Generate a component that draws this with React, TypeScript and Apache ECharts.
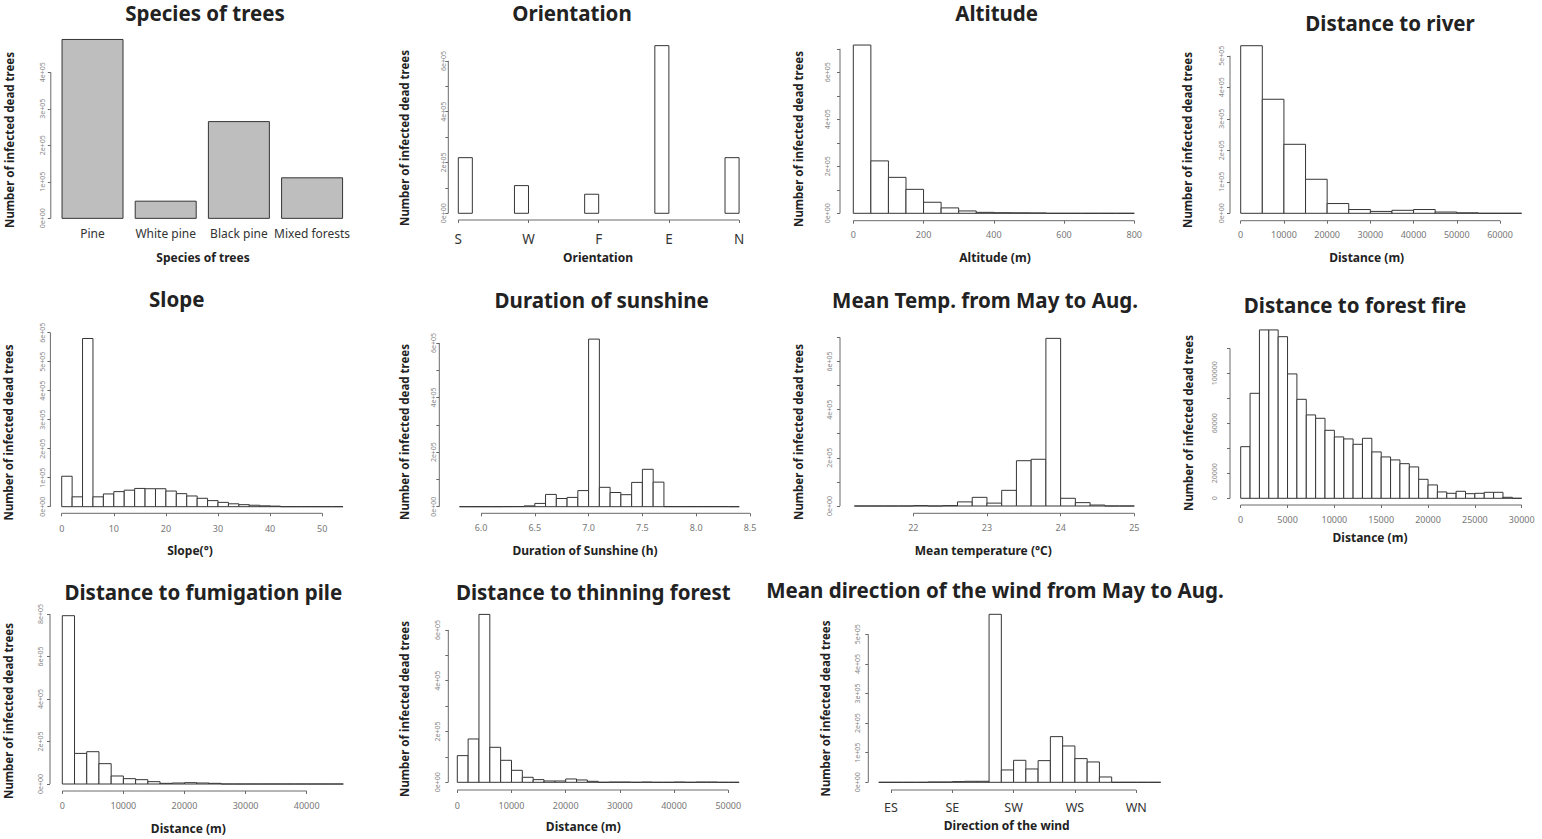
import React, { useEffect, useRef } from 'react';
import * as echarts from 'echarts';

const FF = '"Noto Sans", "Open Sans", "DejaVu Sans", sans-serif';

// ---------------- DATA ----------------
// Species of trees (bar plot)
const speciesNames = ['Pine', 'White pine', 'Black pine', 'Mixed forests'];
const speciesCounts = [490000, 47000, 265000, 111000];
const speciesYTicks = [0, 100000, 200000, 300000, 400000];

// Orientation (bins 0.2 wide ending at each class)
const orientationNames = ['S', 'W', 'F', 'E', 'N'];
const orientationBinStarts = [0, 0.8, 1.8, 2.8, 3.8];
const orientationCounts = [219000, 109000, 75000, 660000, 219000];
const orientationXTicks = [0, 1, 2, 3, 4];
const orientationYTicks = [0, 100000, 200000, 300000, 400000, 500000, 600000];
const orientationYLabels = [0, 200000, 400000, 600000];

// Altitude (50 m bins from 0)
const altitudeCounts = [716000, 223000, 153000, 102000, 47000, 23000, 10000, 4000, 2500, 2000, 1500, 0, 0, 0, 0, 0];
const altitudeXTicks = [0, 200, 400, 600, 800];
const altitudeYTicks = [0, 100000, 200000, 300000, 400000, 500000, 600000, 700000];
const altitudeYLabels = [0, 200000, 400000, 600000];

// Distance to river (5000 m bins from 0)
const riverCounts = [532000, 362000, 219000, 108000, 31000, 12000, 6000, 9500, 12000, 4000, 1500, 0, 0];
const riverXTicks = [0, 10000, 20000, 30000, 40000, 50000, 60000];
const riverYTicks = [0, 100000, 200000, 300000, 400000, 500000];

// Slope (2 degree bins from 0)
const slopeCounts = [105000, 34000, 580000, 34000, 44000, 52000, 57000, 63000, 62000, 62000, 54000, 45000, 37000, 29000, 21000, 15000, 10000, 7000, 5000, 3000, 2000, 0, 0, 0, 0, 0, 0];
const slopeXTicks = [0, 10, 20, 30, 40, 50];
const slopeYTicks = [0, 100000, 200000, 300000, 400000, 500000, 600000];

// Duration of sunshine (0.1 h bins from 5.8)
const sunshineCounts = [0, 0, 0, 0, 300, 500, 3000, 12000, 45000, 30000, 34000, 59000, 614000, 71000, 52000, 44000, 89000, 137000, 90000, 300, 300, 300, 300, 300, 300, 0];
const sunshineXTicks = [6.0, 6.5, 7.0, 7.5, 8.0, 8.5];
const sunshineYTicks = [0, 100000, 200000, 300000, 400000, 500000, 600000];
const sunshineYLabels = [0, 200000, 400000, 600000];

// Mean temperature (0.2 C bins from 21.2)
const tempCounts = [0, 0, 0, 0, 1500, 0, 1500, 17000, 36000, 12000, 65000, 188000, 194000, 696000, 32000, 14000, 4000, 0, 0];
const tempXTicks = [22, 23, 24, 25];
const tempYTicks = [0, 100000, 200000, 300000, 400000, 500000, 600000, 700000];
const tempYLabels = [0, 200000, 400000, 600000];

// Distance to forest fire (1000 m bins from 0)
const fireCounts = [41300, 84000, 134700, 134700, 129300, 99500, 79200, 66700, 64000, 54400, 49100, 47500, 43200, 48000, 37100, 33100, 30700, 27700, 25100, 15200, 10700, 5100, 4000, 5600, 3700, 4000, 4800, 4800, 800, 0];
const fireXTicks = [0, 5000, 10000, 15000, 20000, 25000, 30000];
const fireYTicks = [0, 20000, 40000, 60000, 80000, 100000, 120000];
const fireYLabels = [0, 20000, 60000, 100000];

// Distance to fumigation pile (2000 m bins from 0)
const fumigationCounts = [792000, 144000, 152000, 95700, 37700, 25100, 20400, 11000, 3100, 4700, 6300, 4700, 3100, 0, 0, 0, 0, 0, 0, 0, 0, 0, 0];
const fumigationXTicks = [0, 10000, 20000, 30000, 40000];
const fumigationYTicks = [0, 200000, 400000, 600000, 800000];

// Distance to thinning forest (2000 m bins from 0)
const thinningCounts = [105000, 170600, 661000, 137800, 86600, 47200, 19700, 10500, 5200, 5200, 13100, 9200, 3900, 0, 1000, 1000, 0, 1000, 0, 0, 1000, 0, 1000, 1000, 0, 0];
const thinningXTicks = [0, 10000, 20000, 30000, 40000, 50000];
const thinningYTicks = [0, 100000, 200000, 300000, 400000, 500000, 600000];
const thinningYLabels = [0, 200000, 400000, 600000];

// Mean wind direction (0.2 bins from -0.2, classes at 0..4)
const windNames = ['ES', 'SE', 'SW', 'WS', 'WN'];
const windCounts = [0, 0, 0, 0, 1000, 1000, 2300, 3400, 3400, 567500, 41700, 74300, 45000, 73200, 154300, 122700, 80000, 68700, 18000, 0, 0, 0, 0];
const windXTicks = [0, 1, 2, 3, 4];
const windYTicks = [0, 100000, 200000, 300000, 400000, 500000];

// ---------------- HELPERS ----------------
const bins = (start: number, width: number, counts: number[]) =>
  counts.map((c, i) => [start + i * width, start + (i + 1) * width, c]);
const sci = (v: number) => (v === 0 ? '0e+00' : `${Math.round(v / 1e5)}e+05`);
const plain = (v: number) => String(Math.round(v));
const oneDec = (v: number) => v.toFixed(1);

type Panel = {
  box: number[]; // left, top, right, bottom (px)
  x: number[];
  y: number[];
  bins: number[][];
  fill: string;
  xTicks: number[] | null;
  xLabels: number[];
  xFmt: (v: number) => string;
  xLab: { size: number; color: string; margin: number };
  yTicks: number[];
  yLabels: number[];
  yFmt: (v: number) => string;
  yMargin: number;
  title: [string, number, number];
  xTitle: [string, number, number];
  yTitle: [number, number];
};

const NUM = { size: 9, color: '#777', margin: 9 };

const panels: Panel[] = [
  {
    box: [50.8, 32.3, 353.8, 225.5], x: [0.016, 4.984], y: [-19600, 509600],
    bins: speciesCounts.map((c, i) => [0.2 + 1.2 * i, 1.2 + 1.2 * i, c]), fill: '#bebebe',
    xTicks: null, xLabels: speciesNames.map((_, i) => 0.7 + 1.2 * i),
    xFmt: (v) => speciesNames[Math.round((v - 0.7) / 1.2)] ?? '',
    xLab: { size: 12, color: '#333', margin: 2 },
    yTicks: speciesYTicks, yLabels: speciesYTicks, yFmt: sci, yMargin: 4.5,
    title: ['Species of trees', 205, 13], xTitle: ['Species of trees', 203, 257], yTitle: [9.3, 140],
  },
  {
    box: [448.3, 39, 750.3, 220], x: [-0.1425, 4.16], y: [-26400, 686200],
    bins: orientationCounts.map((c, i) => [orientationBinStarts[i], orientationBinStarts[i] + 0.2, c]), fill: '#fff',
    xTicks: orientationXTicks, xLabels: orientationXTicks,
    xFmt: (v) => orientationNames[Math.round(v)] ?? '',
    xLab: { size: 13.5, color: '#333', margin: 12 },
    yTicks: orientationYTicks, yLabels: orientationYLabels, yFmt: sci, yMargin: 1.5,
    title: ['Orientation', 572, 13], xTitle: ['Orientation', 598, 257], yTitle: [404.3, 138],
  },
  {
    box: [840, 38.3, 1145, 220.7], x: [-37.9, 830.5], y: [-31500, 744700],
    bins: bins(0, 50, altitudeCounts), fill: '#fff',
    xTicks: altitudeXTicks, xLabels: altitudeXTicks, xFmt: plain, xLab: NUM,
    yTicks: altitudeYTicks, yLabels: altitudeYLabels, yFmt: sci, yMargin: 9,
    title: ['Altitude', 996.7, 13], xTitle: ['Altitude (m)', 995, 257], yTitle: [798.3, 139],
  },
  {
    box: [1230, 39, 1532.7, 220.7], x: [-2476, 67560], y: [-23490, 553300],
    bins: bins(0, 5000, riverCounts), fill: '#fff',
    xTicks: riverXTicks, xLabels: riverXTicks, xFmt: plain, xLab: NUM,
    yTicks: riverYTicks, yLabels: riverYTicks, yFmt: sci, yMargin: 4.7,
    title: ['Distance to river', 1390, 23], xTitle: ['Distance (m)', 1366.7, 257], yTitle: [1187.3, 140],
  },
  {
    box: [50.4, 331.8, 354.3, 513.3], x: [-2.17, 56.16], y: [-22760, 603100],
    bins: bins(0, 2, slopeCounts), fill: '#fff',
    xTicks: slopeXTicks, xLabels: slopeXTicks, xFmt: plain, xLab: { ...NUM, margin: 10.5 },
    yTicks: slopeYTicks, yLabels: slopeYTicks, yFmt: sci, yMargin: 4.7,
    title: ['Slope', 176.7, 299], xTitle: ['Slope(°)', 190, 550], yTitle: [8.3, 432.5],
  },
  {
    box: [439.3, 332.4, 750.5, 513.3], x: [5.6125, 8.5046], y: [-24200, 638600],
    bins: bins(5.8, 0.1, sunshineCounts), fill: '#fff',
    xTicks: sunshineXTicks, xLabels: sunshineXTicks, xFmt: oneDec, xLab: { ...NUM, margin: 9.8 },
    yTicks: sunshineYTicks, yLabels: sunshineYLabels, yFmt: sci, yMargin: 2,
    title: ['Duration of sunshine', 601.7, 300], xTitle: ['Duration of Sunshine (h)', 585, 550.7], yTitle: [404.3, 432],
  },
  {
    box: [840, 331.6, 1145.5, 513.3], x: [21.005, 25.152], y: [-30300, 724000],
    bins: bins(21.2, 0.2, tempCounts), fill: '#fff',
    xTicks: tempXTicks, xLabels: tempXTicks, xFmt: plain, xLab: { ...NUM, margin: 9.8 },
    yTicks: tempYTicks, yLabels: tempYLabels, yFmt: sci, yMargin: 7,
    title: ['Mean Temp. from May to Aug.', 985, 300], xTitle: ['Mean temperature (°C)', 983.3, 550], yTitle: [798.3, 432],
  },
  {
    box: [1230, 323.2, 1532.9, 505], x: [-1142, 31195], y: [-5360, 140080],
    bins: bins(0, 1000, fireCounts), fill: '#fff',
    xTicks: fireXTicks, xLabels: fireXTicks, xFmt: plain, xLab: { ...NUM, margin: 9.8 },
    yTicks: fireYTicks, yLabels: fireYLabels, yFmt: plain, yMargin: 12,
    title: ['Distance to forest fire', 1355, 305], xTitle: ['Distance (m)', 1370, 537.3], yTitle: [1188.3, 423],
  },
  {
    box: [50, 609, 354.6, 791], x: [-2013, 47840], y: [-32940, 823500],
    bins: bins(0, 2000, fumigationCounts), fill: '#fff',
    xTicks: fumigationXTicks, xLabels: fumigationXTicks, xFmt: plain, xLab: { ...NUM, margin: 10.2 },
    yTicks: fumigationYTicks, yLabels: fumigationYTicks, yFmt: sci, yMargin: 6.4,
    title: ['Distance to fumigation pile', 203.3, 591.7], xTitle: ['Distance (m)', 188.3, 828.3], yTitle: [8.3, 711],
  },
  {
    box: [448.3, 607.7, 750.4, 790], x: [-1660, 54080], y: [-30300, 687400],
    bins: bins(0, 2000, thinningCounts), fill: '#fff',
    xTicks: thinningXTicks, xLabels: thinningXTicks, xFmt: plain, xLab: { ...NUM, margin: 10.5 },
    yTicks: thinningYTicks, yLabels: thinningYLabels, yFmt: sci, yMargin: 7.4,
    title: ['Distance to thinning forest', 593.3, 591.7], xTitle: ['Distance (m)', 583.3, 826.7], yTitle: [404.3, 709],
  },
  {
    box: [868.3, 607.6, 1172, 790], x: [-0.37, 4.584], y: [-26000, 590200],
    bins: bins(-0.2, 0.2, windCounts), fill: '#fff',
    xTicks: windXTicks, xLabels: windXTicks,
    xFmt: (v) => windNames[Math.round(v)] ?? '',
    xLab: { size: 12.5, color: '#333', margin: 10.5 },
    yTicks: windYTicks, yLabels: windYTicks, yFmt: sci, yMargin: 7.4,
    title: ['Mean direction of the wind from May to Aug.', 995, 590], xTitle: ['Direction of the wind', 1006.7, 825.7], yTitle: [825.7, 708.5],
  },
];

const AXIS_COLOR = '#6a6a6a';
const BAR_STROKE = '#353535';

function text(str: string, x: number, y: number, size: number, rotation = 0) {
  return {
    type: 'text',
    x,
    y,
    rotation,
    silent: true,
    style: {
      text: str,
      fontFamily: FF,
      fontSize: size,
      fontWeight: 'bold',
      fill: '#222',
      align: 'center',
      verticalAlign: 'middle',
      textAlign: 'center',
      textVerticalAlign: 'middle',
    },
  };
}

function buildOption() {
  const grid = panels.map((p) => ({
    left: p.box[0],
    top: p.box[1],
    width: p.box[2] - p.box[0],
    height: p.box[3] - p.box[1],
    containLabel: false,
    outerBoundsMode: 'none',
  }));

  const xAxis = panels.map((p, i) => ({
    type: 'value',
    gridIndex: i,
    min: p.x[0],
    max: p.x[1],
    axisLine: { show: false, onZero: false },
    splitLine: { show: false },
    axisTick: p.xTicks
      ? { show: true, customValues: p.xTicks, length: 3, lineStyle: { color: AXIS_COLOR, width: 1 } }
      : { show: false },
    axisLabel: {
      show: true,
      customValues: p.xLabels,
      formatter: (v: number) => p.xFmt(v),
      fontSize: p.xLab.size,
      color: p.xLab.color,
      margin: p.xLab.margin,
      fontFamily: FF,
    },
  }));

  const yAxis = panels.map((p, i) => ({
    type: 'value',
    gridIndex: i,
    min: p.y[0],
    max: p.y[1],
    axisLine: { show: false, onZero: false },
    splitLine: { show: false },
    axisTick: { show: true, customValues: p.yTicks, length: 3, lineStyle: { color: AXIS_COLOR, width: 1 } },
    axisLabel: {
      show: true,
      customValues: p.yLabels,
      formatter: (v: number) => p.yFmt(v),
      rotate: 90,
      fontSize: 7,
      color: '#888',
      margin: p.yMargin,
      fontFamily: FF,
    },
  }));

  const series: any[] = [];
  panels.forEach((p, i) => {
    series.push({
      type: 'custom',
      xAxisIndex: i,
      yAxisIndex: i,
      silent: true,
      clip: false,
      data: p.bins,
      encode: { x: [0, 1], y: 2 },
      renderItem: (_params: any, api: any) => {
        const x0 = api.value(0);
        const x1 = api.value(1);
        const c = api.value(2);
        const a = api.coord([x0, 0]);
        const b = api.coord([x1, c]);
        return {
          type: 'polygon',
          shape: { points: [[a[0], a[1]], [a[0], b[1]], [b[0], b[1]], [b[0], a[1]]] },
          style: { fill: p.fill, stroke: BAR_STROKE, lineWidth: 1 },
        };
      },
    });
    // R-style axis lines spanning first to last tick
    series.push({
      type: 'custom',
      xAxisIndex: i,
      yAxisIndex: i,
      silent: true,
      clip: false,
      data: [[p.x[0], p.y[0]]],
      renderItem: (params: any, api: any) => {
        const cs = params.coordSys;
        const children: any[] = [];
        const yb = api.coord([p.x[0], p.yTicks[0]])[1];
        const yt = api.coord([p.x[0], p.yTicks[p.yTicks.length - 1]])[1];
        children.push({
          type: 'line',
          shape: { x1: cs.x, y1: yb, x2: cs.x, y2: yt },
          style: { stroke: AXIS_COLOR, lineWidth: 1 },
        });
        if (p.xTicks) {
          const xl = api.coord([p.xTicks[0], p.y[0]])[0];
          const xr = api.coord([p.xTicks[p.xTicks.length - 1], p.y[0]])[0];
          const yy = cs.y + cs.height;
          children.push({
            type: 'line',
            shape: { x1: xl, y1: yy, x2: xr, y2: yy },
            style: { stroke: AXIS_COLOR, lineWidth: 1 },
          });
        }
        return { type: 'group', children };
      },
    });
  });

  const elements: any[] = [];
  panels.forEach((p) => {
    elements.push(text(p.title[0], p.title[1], p.title[2], 20.5));
    elements.push(text(p.xTitle[0], p.xTitle[1], p.xTitle[2], 12));
    elements.push(text('Number of infected dead trees', p.yTitle[0], p.yTitle[1], 11.5, Math.PI / 2));
  });

  return {
    animation: false,
    backgroundColor: '#ffffff',
    textStyle: { fontFamily: FF },
    grid,
    xAxis,
    yAxis,
    series,
    graphic: { elements },
  };
}

export default function App() {
  const ref = useRef<HTMLDivElement>(null);
  useEffect(() => {
    if (!ref.current) return;
    const chart = echarts.init(ref.current, null, { renderer: 'svg' });
    chart.setOption(buildOption() as any);
    return () => {
      chart.dispose();
    };
  }, []);
  return (
    <div
      ref={ref}
      style={{ position: 'absolute', left: 0, top: 0, width: 1542, height: 839, background: '#fff' }}
    />
  );
}
